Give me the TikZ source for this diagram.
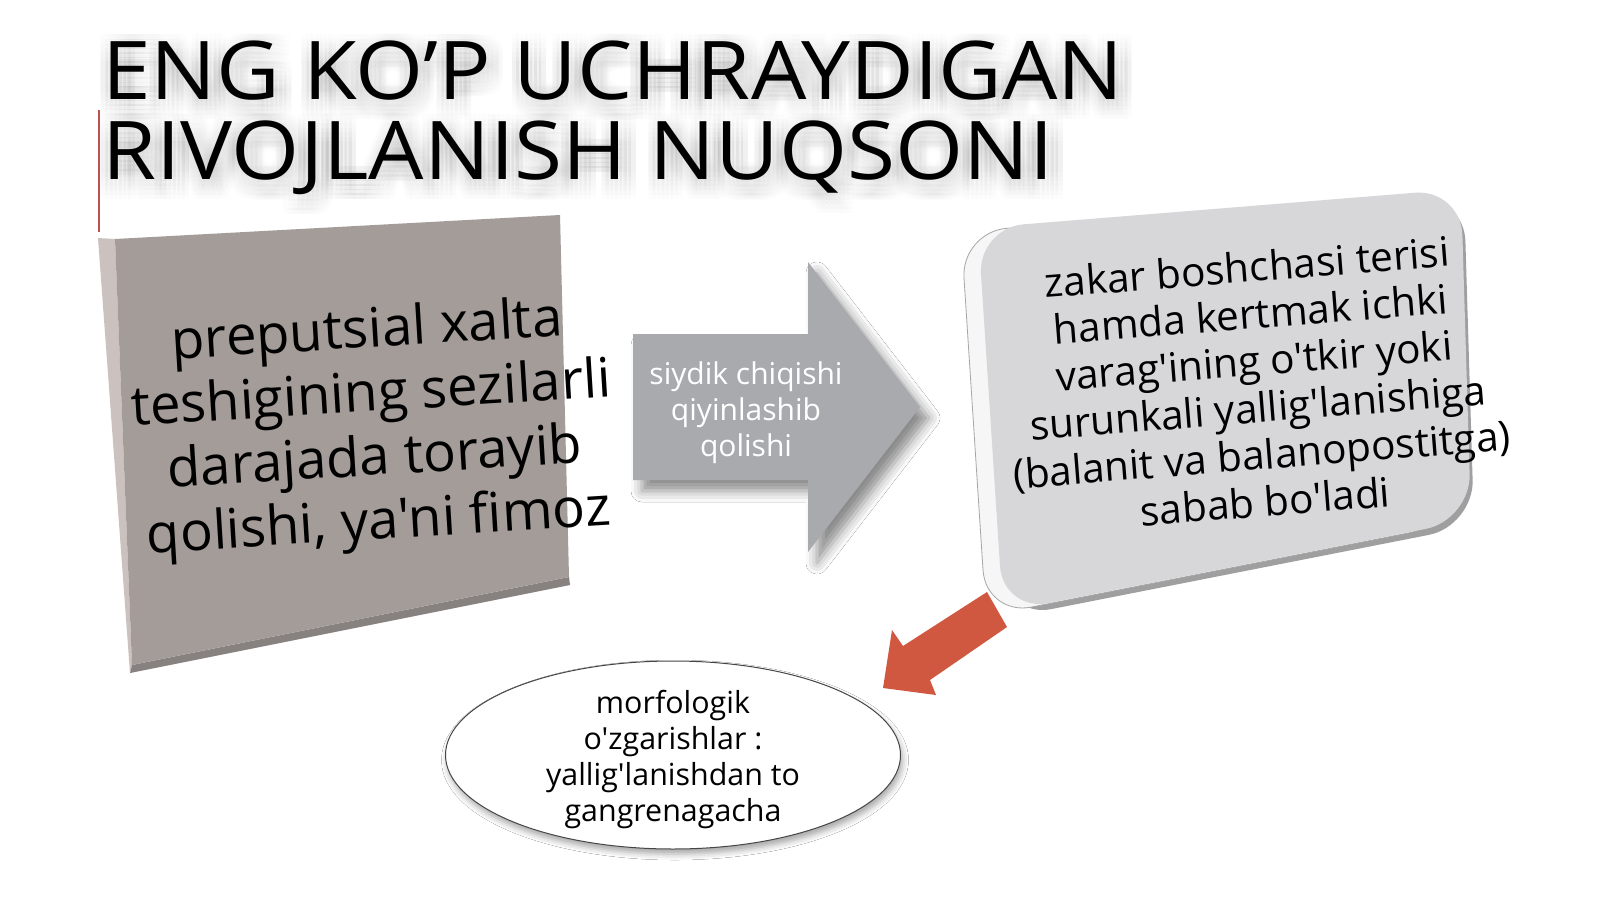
\documentclass[tikz,border=0pt]{standalone}
\usepackage{fontspec}
\setmainfont{Open Sans}[Ligatures=TeXOff]
\newfontfamily\titlefont{Open Sans}[FakeStretch=1.08]
\usetikzlibrary{shapes.geometric,shadows.blur}
\definecolor{slabfront}{RGB}{163,156,153}
\definecolor{slabside}{RGB}{203,193,191}
\definecolor{slabbottom}{RGB}{135,130,128}
\definecolor{arrowgrey}{RGB}{168,170,174}
\definecolor{boxface}{RGB}{215,215,217}
\definecolor{boxbevel}{RGB}{246,246,246}
\definecolor{redarrow}{RGB}{208,88,64}
\definecolor{titlered}{RGB}{192,80,77}
\tikzset{
  titletext/.style={font=\titlefont\fontsize{81}{81}\selectfont, inner sep=0pt, anchor=base west},
  slabtext/.style={font=\fontsize{54.5}{64}\selectfont, align=center, inner sep=0pt, rotate=3.5},
  boxtext/.style={font=\fontsize{40.5}{47}\selectfont, align=center, inner sep=0pt, rotate=4.5},
  arrowtext/.style={font=\fontsize{30}{36}\selectfont, align=center, inner sep=0pt, text=white},
  elltext/.style={font=\fontsize{30.4}{36}\selectfont, align=center, inner sep=0pt},
}
\begin{document}
\begin{tikzpicture}[x=1pt,y=-1pt]
\useasboundingbox (0,0) rectangle (1600,899);
\fill[white] (0,0) rectangle (1600,899);

% title shadow (soft blur made of faint copies)
\foreach \dx [count=\i] in {-13.5,-9,-4.5,0,4.5,9,13.5}{
  \foreach \dy [count=\j] in {-13.5,-9,-4.5,0,4.5,9,13.5}{
    \node[titletext, text=black, text opacity=0.0075] (tsa\i\j) at (106+\dx,106+\dy) {ENG KO’P UCHRAYDIGAN};
    \node[titletext, text=black, text opacity=0.0075] (tsb\i\j) at (106+\dx,186+\dy) {RIVOJLANISH NUQSONI};
  }
}
\node[titletext] (title1) at (102,99) {ENG KO’P UCHRAYDIGAN};
\node[titletext] (title2) at (102,179) {RIVOJLANISH NUQSONI};
\coordinate (rl1) at (99,110);
\coordinate (rl2) at (99,232);
\draw[titlered, line width=1.5pt] (rl1) -- (rl2);

% left slab
\fill[slabside] (98,238) -- (115,239) -- (132,665) -- (130,673) -- cycle;
\fill[slabbottom] (132,665) -- (569,577) -- (570,585) -- (130,673) -- cycle;
\fill[slabfront] (115,239) -- (560,215) -- (569,577) -- (132,665) -- cycle;
\node[slabtext] (slab) at (373,429) {preputsial xalta\\teshigining sezilarli\\darajada torayib\\qolishi, ya'ni fimoz};

% middle arrow
\fill[arrowgrey, blur shadow={shadow xshift=9pt, shadow yshift=-11pt, shadow blur radius=11pt, shadow opacity=45}]
  (633,334) -- (808,334) -- (808,262) -- (920,407) -- (808,552) -- (808,480) -- (633,480) -- cycle;
\node[arrowtext] (mid) at (746,413) {siydik chiqishi\\qiyinlashib\\qolishi};

% right box
\fill[gray!75, shift={(3,6)}, rounded corners=46pt] (1220,208.5) -- (1461,189) -- (1471,520) -- (1003,612) -- (978,228) -- cycle;
\filldraw[fill=boxbevel, draw=gray!70, line width=0.8pt, shift={(-17,4)}, rounded corners=46pt] (1220,208.5) -- (1461,189) -- (1471,520) -- (1003,612) -- (978,228) -- cycle;
\fill[boxface, rounded corners=46pt] (1220,208.5) -- (1461,189) -- (1471,520) -- (1003,612) -- (978,228) -- cycle;
\node[boxtext] (rbox) at (1256,384) {zakar boshchasi terisi\\hamda kertmak ichki\\varag'ining o'tkir yoki\\surunkali yallig'lanishiga\\(balanit va balanopostitga)\\sabab bo'ladi};

% red arrow
\fill[redarrow] (987,592) -- (1007,627) -- (930,680) -- (936,695) -- (883,688) -- (892,630) -- (903,646) -- cycle;

% ellipse
\node[ellipse, draw=gray!55!black, line width=1pt, fill=white, minimum width=455pt, minimum height=188pt,
  blur shadow={shadow xshift=2pt, shadow yshift=-5pt, shadow blur radius=6pt, shadow opacity=35}] (ell) at (673,755) {};
\node[elltext] (elltxt) at (673,760) {morfologik\\o'zgarishlar :\\yallig'lanishdan to\\gangrenagacha};
\end{tikzpicture}
\end{document}
